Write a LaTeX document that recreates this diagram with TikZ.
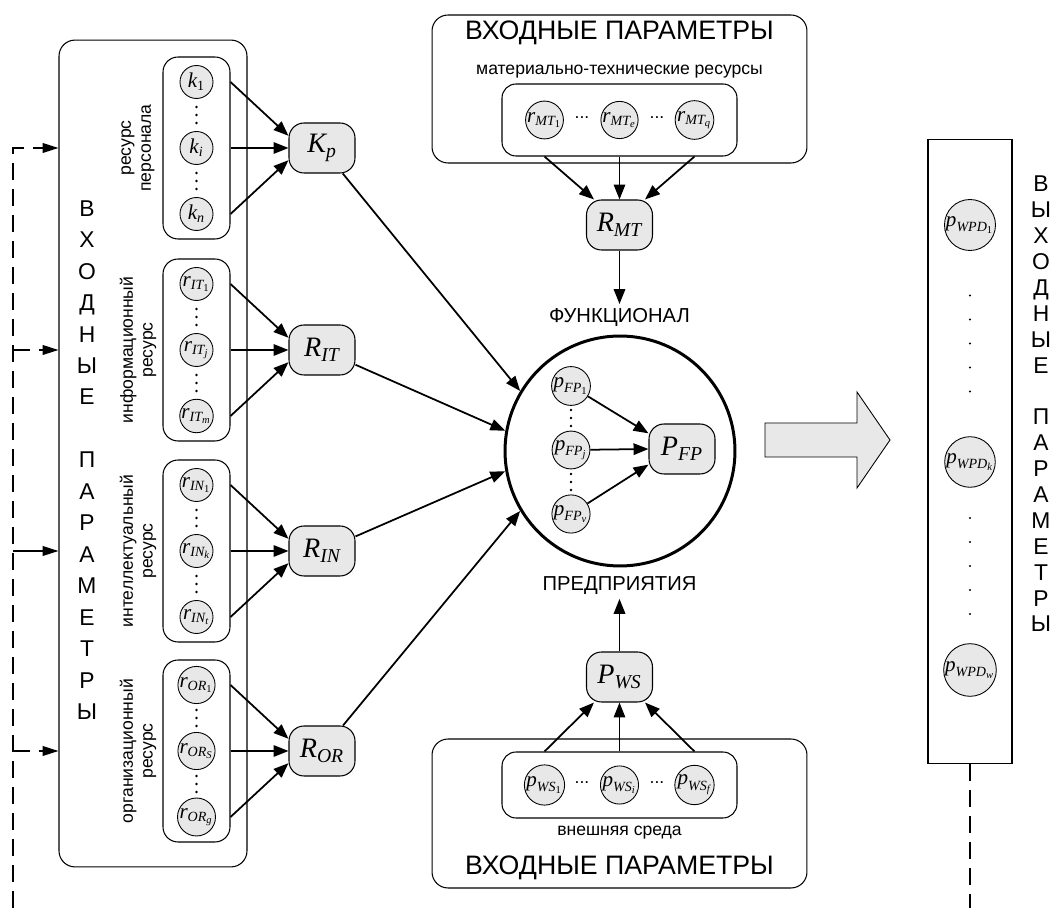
\documentclass[tikz,border=0pt]{standalone}
\usepackage{fontspec}
\usepackage{amsmath}
\setmainfont{Liberation Sans}
\newfontfamily\varfont{Liberation Serif}
\usetikzlibrary{arrows.meta}

% italic variables with one or two levels of index
\newcommand\vt[1]{\text{\varfont\itshape #1}}
\newcommand\vone[2]{$\vt{#1}_{\vt{#2}}$}
\newcommand\vtwo[3]{$\vt{#1}_{\vt{#2}_{\vt{#3}}}$}
\newcommand\one{\upshape 1}

\tikzset{
  panel/.style={draw, line width=0.6pt, rounded corners=0.32cm},
  grpbox/.style={panel, rounded corners=0.3cm, minimum width=1.34cm, minimum height=3.64cm},
  res/.style={draw, circle, fill=gray!18, line width=0.5pt, inner sep=0pt, minimum size=0.66cm, font=\fontsize{12}{12}\selectfont},
  agg/.style={draw, fill=gray!18, line width=0.6pt, rounded corners=0.3cm, minimum width=1.32cm, minimum height=1cm, inner sep=1pt, font=\fontsize{16}{16}\selectfont},
  link/.style={line width=1pt, -{Triangle[length=8.5pt,width=6.5pt]}},
  feed/.style={line width=0.9pt, dash pattern=on 0.34cm off 0.18cm, -{Triangle[length=9pt,width=5.5pt]}},
  grplabel/.style={rotate=90, align=center, font=\fontsize{10}{11.3}\selectfont},
  note/.style={font=\fontsize{10}{12}\selectfont},
  headline/.style={font=\fontsize{15.2}{17}\selectfont},
  caps/.style={font=\fontsize{11.5}{13}\selectfont, inner sep=2pt},
  vtext/.style={align=center, font=\fontsize{13}{#1}\selectfont},
  hdots/.style={inner sep=0pt, font=\fontsize{10}{10}\selectfont},
}

\begin{document}
\begin{tikzpicture}[x=0.02cm, y=-0.02cm]
  \useasboundingbox (0,0) rectangle (1056,908);

  % resources of the enterprise
  \node[panel, minimum width=3.76cm, minimum height=16.54cm] (inbox) at (153,453.5) {};
  \node[vtext=17.9pt] (inlbl) at (87,460) {В\\Х\\О\\Д\\Н\\Ы\\Е\\[17.9pt]П\\А\\Р\\А\\М\\Е\\Т\\Р\\Ы};

  \foreach \g/\y/\a/\b/\c/\s/\lab in {
      K/148/{\vone{k}{\one}}/{\vone{k}{i}}/{\vone{k}{n}}/{\vone{K}{p}}/{ресурс\\персонала},
      IT/350/{\vtwo{r}{IT}{\one}}/{\vtwo{r}{IT}{j}}/{\vtwo{r}{IT}{m}}/{\vone{R}{IT}}/{информационный\\ресурс},
      IN/551/{\vtwo{r}{IN}{\one}}/{\vtwo{r}{IN}{k}}/{\vtwo{r}{IN}{t}}/{\vone{R}{IN}}/{интеллектуальный\\ресурс},
      OR/751/{\vtwo{r}{OR}{\one}}/{\vtwo{r}{OR}{S}}/{\vtwo{r}{OR}{g}}/{\vone{R}{OR}}/{организационный\\ресурс}} {
    \node[grpbox] (grp\g) at (196.5,\y) {};
    \node[grplabel] (lbl\g) at (138,\y) {\lab};
    \node[res] (\g a) at (196.5,\y-66) {\a};
    \node[res] (\g b) at (196.5,\y) {\b};
    \node[res] (\g c) at (196.5,\y+66) {\c};
    \foreach \d in {-41,-33,-25,25,33,41}
      \fill (196.5,\y+\d) circle (0.75pt);
    \node[agg] (agg\g) at (322,\y) {\s};
    \draw[link] (\g a -| grp\g.east) -- (agg\g.160);
    \draw[link] (\g b -| grp\g.east) -- (agg\g.west);
    \draw[link] (\g c -| grp\g.east) -- (agg\g.200);
  }

  % feedback from the output
  \coordinate (fbend) at (13,908);
  \coordinate (fbIT) at (13,350);
  \coordinate (fbIN) at (13,551);
  \coordinate (fbOR) at (13,751);
  \draw[feed] (fbend) |- (inbox.west |- grpK);
  \draw[feed] (fbIT) -- (fbIT -| inbox.west);
  \draw[feed, solid] (fbIN) -- (fbIN -| inbox.west);
  \draw[feed] (fbOR) -- (fbOR -| inbox.west);

  % material resources
  \node[panel, minimum width=7.5cm, minimum height=2.96cm] (mtout) at (619.5,89) {};
  \node[headline] (mthead) at (619.5,33) {ВХОДНЫЕ ПАРАМЕТРЫ};
  \node[note] (mtlbl) at (619.5,72) {материально-технические ресурсы};
  \node[panel, rounded corners=0.28cm, minimum width=4.7cm, minimum height=1.44cm] (mtin) at (619.5,120) {};
  \node[res] (mt1) at (544.5,120) {\vtwo{r}{MT}{\one}};
  \node[res] (mt2) at (619.5,120) {\vtwo{r}{MT}{e}};
  \node[res] (mt3) at (694.5,120) {\vtwo{r}{MT}{q}};
  \node[hdots] (mtd1) at (582,118) {...};
  \node[hdots] (mtd2) at (657,118) {...};
  \node[agg] (aggMT) at (619.5,225) {\vone{R}{MT}};
  \draw[link] (mt1 |- mtin.south) -- (aggMT.135);
  \draw[link] (mt2 |- mtin.south) -- (aggMT.north);
  \draw[link] (mt3 |- mtin.south) -- (aggMT.45);

  % functional of the enterprise
  \node[draw, circle, line width=1.7pt, minimum size=4.6cm] (fp) at (620,451) {};
  \node[caps] (func) at (619.5,317) {ФУНКЦИОНАЛ};
  \node[caps] (ent) at (619.5,586) {ПРЕДПРИЯТИЯ};
  \node[res] (fp1) at (571,386) {\vtwo{p}{FP}{\one}};
  \node[res] (fp2) at (571,450) {\vtwo{p}{FP}{j}};
  \node[res] (fp3) at (571,514) {\vtwo{p}{FP}{v}};
  \foreach \d in {410,418,426,474,482,490}
    \fill (571,\d) circle (0.75pt);
  \node[agg] (aggFP) at (682,449) {\vone{P}{FP}};
  \draw[link] (fp1) -- (aggFP.155);
  \draw[link] (fp2) -- (aggFP.west);
  \draw[link] (fp3) -- (aggFP.205);
  \draw[link] (aggMT) -- (func);
  \draw[link] (aggK) -- (fp.149);
  \draw[link] (aggIT) -- (fp.170);
  \draw[link] (aggIN) -- (fp.190);
  \draw[link] (aggOR) -- (fp.211);

  % external environment
  \node[panel, minimum width=7.5cm, minimum height=2.98cm] (wsout) at (619.5,813.5) {};
  \node[panel, rounded corners=0.28cm, minimum width=4.7cm, minimum height=1.32cm] (wsin) at (619.5,785) {};
  \node[res] (ws1) at (544.5,785) {\vtwo{p}{WS}{\one}};
  \node[res] (ws2) at (619.5,785) {\vtwo{p}{WS}{i}};
  \node[res] (ws3) at (694.5,785) {\vtwo{p}{WS}{f}};
  \node[hdots] (wsd1) at (582,783) {...};
  \node[hdots] (wsd2) at (657,783) {...};
  \node[note] (wslbl) at (619.5,833) {внешняя среда};
  \node[headline] (wshead) at (619.5,868) {ВХОДНЫЕ ПАРАМЕТРЫ};
  \node[agg] (aggWS) at (619.5,677) {\vone{P}{WS}};
  \draw[link] (ws1 |- wsin.north) -- (aggWS.225);
  \draw[link] (ws2 |- wsin.north) -- (aggWS.south);
  \draw[link] (ws3 |- wsin.north) -- (aggWS.315);
  \draw[link] (aggWS) -- (ent);

  % transition to the output
  \draw[fill=gray!18, line width=0.5pt] (765,423) -- (857,423) -- (857,392) -- (890,440)
    -- (857,488) -- (857,457) -- (765,457) -- cycle;

  % output parameters
  \node[draw, line width=0.6pt, minimum width=1.68cm, minimum height=12.5cm] (outbox) at (970,451.5) {};
  \node[res] (wpd1) at (970,225) {\vtwo{p}{WPD}{\one}};
  \node[res] (wpd2) at (970,462) {\vtwo{p}{WPD}{k}};
  \node[res] (wpd3) at (970,670) {\vtwo{p}{WPD}{w}};
  \foreach \i in {0,...,4} {
    \fill (970,295.5+24*\i) circle (0.7pt);
    \fill (970,518+24*\i) circle (0.7pt);
  }
  \node[vtext=14.74pt] (outlbl) at (1041,404) {В\\Ы\\Х\\О\\Д\\Н\\Ы\\Е\\[14.74pt]П\\А\\Р\\А\\М\\Е\\Т\\Р\\Ы};
  \coordinate (fbout) at (970,908);
  \draw[feed, -] (outbox.south) -- (fbout);
\end{tikzpicture}
\end{document}
